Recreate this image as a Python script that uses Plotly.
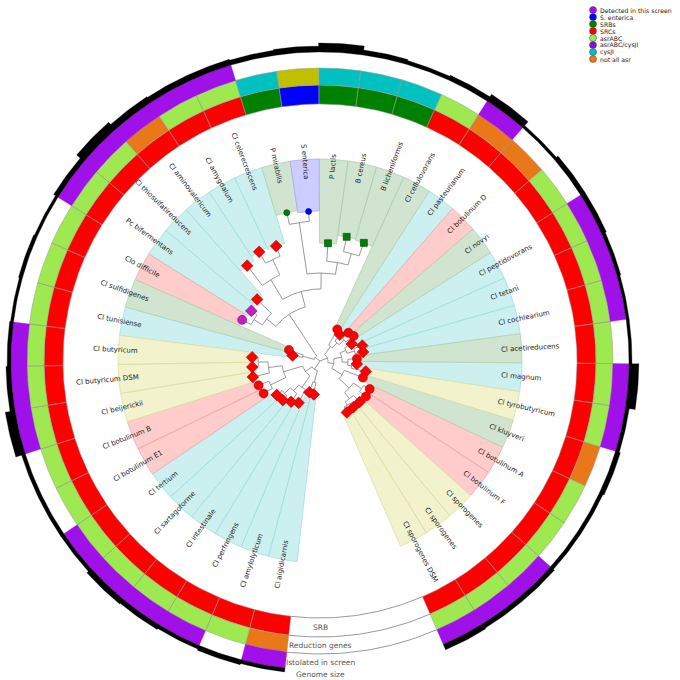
import math
import plotly.graph_objects as go

# ------------------------------------------------------------------ data
taxa = ["Cl algidicarnis", "Cl amylolyticum", "Cl perfringens", "Cl intestinale", "Cl sartagoforme",
        "Cl tertium", "Cl botulinum E1", "Cl botulinum B", "Cl beijerickii", "Cl butyricum DSM",
        "Cl butyricum", "Cl tunisiense", "Cl sulfidigenes", "Clo difficile", "Pc bifermentans",
        "Cl thiosulfatireducens", "Cl aminovalericum", "Cl amygdalum", "Cl celerecrescens", "P mirabilis",
        "S enterica", "P lactis", "B cereus", "B licheniformis", "Cl cellulovorans",
        "Cl pasteurianum", "Cl botulinum D", "Cl novyi", "Cl peptidovorans", "Cl tetani",
        "Cl cochlearium", "Cl acetireducens", "Cl magnum", "Cl tyrobutyricum", "Cl kluyveri",
        "Cl botulinum A", "Cl botulinum F", "Cl sporogenes", "Cl sporogenes", "Cl sporogenes DSM"]

# background highlight group of each leaf
clade = ["cy", "cy", "cy", "cy", "cy", "cy", "pk", "pk", "ye", "ye",
         "ye", "cy", "gr", "pk", "cy", "cy", "cy", "cy", "cy", "gr",
         "lv", "gr", "gr", "gr", "gr", "cy", "pk", "gr", "cy", "cy",
         "cy", "gr", "cy", "ye", "gr", "pk", "pk", "ye", "ye", "ye"]

# ring 1 : SRB
srb_class = ["SRCs"] * 19 + ["SRBs", "S. enterica", "SRBs", "SRBs", "SRBs"] + ["SRCs"] * 16

# ring 2 : reduction genes
reduction_class = (["not all asr"] + ["asrABC"] * 15 + ["not all asr"] + ["asrABC"] * 2 +
                   ["cysJI", "other", "cysJI", "cysJI", "cysJI", "asrABC", "not all asr", "not all asr"] +
                   ["asrABC"] * 7 + ["not all asr"] + ["asrABC"] * 5)

# ring 3 : isolated in screen (1 = yes)
isolated = [1, 0, 1, 1, 1, 1, 0, 0, 1, 1,
            1, 0, 0, 0, 1, 1, 1, 1, 1, 0,
            0, 0, 0, 0, 0, 1, 0, 0, 1, 1,
            1, 0, 1, 1, 0, 0, 0, 1, 1, 1]

# ring 4 : genome size (Mb)
genome_mb = [3.8, 4.2, 3.8, 4.2, 4.5, 3.8, 3.8, 3.8, 5.8, 4.2,
             3.8, 3.5, 3.8, 3.5, 4.2, 5.8, 4.8, 4.5, 4.5, 4.2,
             4.5, 5.5, 4.2, 3.8, 4.2, 5.2, 3.5, 4.2, 4.2, 3.8,
             3.5, 3.5, 5.8, 3.8, 4.2, 3.8, 3.8, 4.2, 4.2, 4.5]

# leaf node marker style
leaf_marker = ["rd", "rd", "rd", "rd", "rd", "rd", "rc", "rc", "rd", "rd",
               "rd", "rd", "rc", "mc", "md", "rd", "rd", "rd", "rd", "gc",
               "bc", "gs", "gs", "gs", "rc", "rd", "rc", "rc", "rd", "rd",
               "rd", "rc", "rd", "rd", "rc", "rc", "rc", "rd", "rd", "rd"]

# tree (leaf tN = taxa[N-1]) with branch lengths
newick = ("(((t1:12,t2:11):12,((t3:15,(t4:10,(t5:6,t6:7):8):8):14,((t7:10,t8:11):17,"
          "(t9:17,(t10:6,t11:6):10):14):20):8):10,"
          "((t12:10,t13:15):12,(((t14:10,t15:7):10,t16:20):12,((t17:25,(t18:13,t19:11):17):23,"
          "((t20:12,t21:10):52,(t22:18,(t23:15,t24:14):12):12):16):16):50):6,"
          "((t25:18,(t26:8,(t27:8,t28:10):7):7):10,(((t29:8,(t30:9,t31:8):8):6,"
          "(t32:9,(t33:5,t34:15):4):6):8,(t35:20,((t36:7,t37:8):10,(t38:9,(t39:5,t40:6):4):8):14):12):6):8);")

legend_labels = ["Detected in this screen", "S. enterica", "SRBs", "SRCs",
                 "asrABC", "asrABC/cysJI", "cysJI", "not all asr"]
ring_labels = ["SRB", "Reduction genes", "Istolated in screen", "Genome size"]

# ------------------------------------------------------------------ styles
clade_fill = {"cy": "#ccf0f0", "pk": "#ffcccc", "gr": "#d0e4d0", "ye": "#f2f2cc", "lv": "#ccccff"}
clade_line = {"cy": "#a6dede", "pk": "#eeaaaa", "gr": "#b0d0b0", "ye": "#dedea6", "lv": "#a8a8ee"}
class_color = {"Detected in this screen": "#a010e8", "S. enterica": "#0000ff", "SRBs": "#008000",
               "SRCs": "#ff0000", "asrABC": "#9ee850", "asrABC/cysJI": "#8010e0", "cysJI": "#00c0c0",
               "not all asr": "#e87818", "other": "#c0c000"}
marker_style = {
    "rd": dict(symbol="diamond", color="#ff0000", size=9, line=dict(color="#b00000", width=0.6)),
    "rc": dict(symbol="circle", color="#ff0000", size=9, line=dict(color="#b00000", width=0.6)),
    "md": dict(symbol="diamond", color="#c020c0", size=9, line=dict(color="#800080", width=0.6)),
    "mc": dict(symbol="circle", color="#c020c0", size=9, line=dict(color="#800080", width=0.6)),
    "gs": dict(symbol="square", color="#008000", size=7, line=dict(color="#004000", width=0.6)),
    "gc": dict(symbol="circle", color="#008000", size=6, line=dict(color="#004000", width=0.6)),
    "bc": dict(symbol="circle", color="#0000ff", size=6, line=dict(color="#000080", width=0.6)),
}

START, STEP = 263.5, 8.25          # angular layout of the leaves (degrees)
TREE_PX = 1.0                      # px per branch-length unit
WEDGE_R = 202
LABEL_R = 182
R_SRB = (257, 276)
R_RED = (276, 293)
R_ISO = (293, 309)
GENOME_BASE, GENOME_MIN, GENOME_PX = 309, 2.5, 3.0
FONT = "DejaVu Sans"
LABEL_SIZE = 7

N = len(taxa)
theta = [START - (i + 0.5) * STEP for i in range(N)]


def pol(r, a):
    t = math.radians(a)
    return r * math.cos(t), r * math.sin(t)


def arc(r, a0, a1):
    n = max(2, int(abs(a1 - a0) / 0.75) + 1)
    return [pol(r, a0 + (a1 - a0) * k / (n - 1)) for k in range(n)]


def sector(r0, r1, a0, a1):
    pts = arc(r1, a0, a1) + arc(r0, a1, a0)
    pts.append(pts[0])
    return pts


fig = go.Figure()


def add_polys(polys, fill, line_color, line_width):
    xs, ys = [], []
    for pts in polys:
        xs += [p[0] for p in pts] + [None]
        ys += [p[1] for p in pts] + [None]
    fig.add_trace(go.Scatter(x=xs, y=ys, mode="lines", fill="toself", fillcolor=fill,
                             line=dict(color=line_color, width=line_width),
                             hoverinfo="skip", showlegend=False))


# ------------------------------------------------------------------ tree
def parse_newick(s):
    pos = 0

    def node():
        nonlocal pos
        children = []
        if s[pos] == "(":
            pos += 1
            while True:
                children.append(node())
                if s[pos] == ",":
                    pos += 1
                    continue
                if s[pos] == ")":
                    pos += 1
                    break
        st = pos
        while pos < len(s) and s[pos] not in ":,();":
            pos += 1
        name = s[st:pos]
        length = 0.0
        if pos < len(s) and s[pos] == ":":
            pos += 1
            st = pos
            while s[pos] not in ",();":
                pos += 1
            length = float(s[st:pos])
        return {"name": name, "len": length, "children": children}

    return node()


tree = parse_newick(newick)
leaf_r = [0.0] * N


def layout(nd, r_parent):
    nd["r"] = r_parent + nd["len"] * TREE_PX
    if not nd["children"]:
        idx = int(nd["name"][1:]) - 1
        nd["a"] = theta[idx]
        leaf_r[idx] = nd["r"]
    else:
        for c in nd["children"]:
            layout(c, nd["r"])
        nd["a"] = (nd["children"][0]["a"] + nd["children"][-1]["a"]) / 2


layout(tree, 0.0)

# ------------------------------------------------------------------ wedges
for key in clade_fill:
    polys = [sector(leaf_r[i], WEDGE_R, theta[i] - STEP / 2, theta[i] + STEP / 2)
             for i in range(N) if clade[i] == key]
    if polys:
        add_polys(polys, clade_fill[key], clade_line[key], 0.8)

# tree lines
tx, ty = [], []


def collect(nd):
    if not nd["children"]:
        return
    pts = arc(nd["r"], nd["children"][0]["a"], nd["children"][-1]["a"])
    tx.extend([p[0] for p in pts] + [None])
    ty.extend([p[1] for p in pts] + [None])
    for c in nd["children"]:
        p0 = pol(nd["r"], c["a"])
        p1 = pol(c["r"], c["a"])
        tx.extend([p0[0], p1[0], None])
        ty.extend([p0[1], p1[1], None])
        collect(c)


collect(tree)
fig.add_trace(go.Scatter(x=tx, y=ty, mode="lines", line=dict(color="#999999", width=1),
                         hoverinfo="skip", showlegend=False))

# leaf markers
for key, st in marker_style.items():
    idx = [i for i in range(N) if leaf_marker[i] == key]
    if not idx:
        continue
    pts = [pol(leaf_r[i], theta[i]) for i in idx]
    fig.add_trace(go.Scatter(x=[p[0] for p in pts], y=[p[1] for p in pts], mode="markers",
                             marker=st, hoverinfo="skip", showlegend=False))

# ------------------------------------------------------------------ rings
for ring_vals, (r0, r1) in ((srb_class, R_SRB), (reduction_class, R_RED)):
    for cls in dict.fromkeys(ring_vals):
        polys = [sector(r0, r1, theta[i] - STEP / 2, theta[i] + STEP / 2)
                 for i in range(N) if ring_vals[i] == cls]
        add_polys(polys, class_color[cls], "#999999", 0.5)

polys = [sector(R_ISO[0], R_ISO[1], theta[i] - STEP / 2, theta[i] + STEP / 2)
         for i in range(N) if isolated[i]]
add_polys(polys, class_color["Detected in this screen"], "#a010e8", 0.3)

polys = [sector(GENOME_BASE, GENOME_BASE + max(GENOME_MIN, (genome_mb[i] - 2.5) * GENOME_PX),
                theta[i] - STEP / 2, theta[i] + STEP / 2) for i in range(N)]
add_polys(polys, "#000000", "#000000", 0.3)

# gray guide arcs in the gap
gap0, gap1 = START - N * STEP, START - 360
gx, gy = [], []
for r in (R_SRB[0], R_SRB[1], R_RED[1]):
    pts = arc(r, gap0, gap1)
    gx += [p[0] for p in pts] + [None]
    gy += [p[1] for p in pts] + [None]
fig.add_trace(go.Scatter(x=gx, y=gy, mode="lines", line=dict(color="#999999", width=1),
                         hoverinfo="skip", showlegend=False))

# ------------------------------------------------------------------ labels
CW = {' ': 0.318, 'A': 0.684, 'B': 0.686, 'C': 0.698, 'D': 0.770, 'E': 0.632, 'F': 0.575,
      'M': 0.863, 'P': 0.603, 'S': 0.635, 'a': 0.613, 'b': 0.635, 'c': 0.550, 'd': 0.635,
      'e': 0.615, 'f': 0.352, 'g': 0.635, 'h': 0.634, 'i': 0.278, 'j': 0.278, 'k': 0.579,
      'l': 0.278, 'm': 0.974, 'n': 0.634, 'o': 0.612, 'p': 0.635, 'q': 0.635, 'r': 0.411,
      's': 0.521, 't': 0.392, 'u': 0.634, 'v': 0.592, 'w': 0.818, 'x': 0.592, 'y': 0.592,
      'z': 0.525, '1': 0.636}

annotations = []
for i, name in enumerate(taxa):
    w = sum(CW.get(ch, 0.6) for ch in name) * LABEL_SIZE
    a = theta[i]
    x, y = pol(LABEL_R + w / 2, a)
    if math.cos(math.radians(a)) >= 0:
        ang = -a
    else:
        ang = 180 - a
    ang = (ang + 180) % 360 - 180
    annotations.append(dict(x=x, y=y, xref="x", yref="y", text=name, showarrow=False,
                            textangle=ang, xanchor="center", yanchor="middle",
                            font=dict(family=FONT, size=LABEL_SIZE, color="#222222")))

ring_mids = [sum(R_SRB) / 2, sum(R_RED) / 2, sum(R_ISO) / 2, GENOME_BASE + 4.5]
for lab, r in zip(ring_labels, ring_mids):
    x, y = pol(r, 270)
    annotations.append(dict(x=x, y=y, xref="x", yref="y", text=lab, showarrow=False,
                            xanchor="center", yanchor="middle",
                            font=dict(family=FONT, size=7.5, color="#555555")))

# legend (drawn manually, compact)
LEG_X, LEG_Y0, LEG_DY = 273, 351, 7.0
ly = [LEG_Y0 - k * LEG_DY for k in range(len(legend_labels))]
fig.add_trace(go.Scatter(x=[LEG_X] * len(legend_labels), y=ly, mode="markers",
                         marker=dict(size=7, color=[class_color[l] for l in legend_labels],
                                     line=dict(color="#444444", width=0.5)),
                         hoverinfo="skip", showlegend=False))
for lab, yy in zip(legend_labels, ly):
    annotations.append(dict(x=LEG_X + 6, y=yy, xref="x", yref="y", text=lab, showarrow=False,
                            xanchor="left", yanchor="middle", borderpad=0,
                            font=dict(family=FONT, size=6.2, color="#222222")))

fig.update_layout(
    width=680, height=680, autosize=False,
    margin=dict(l=0, r=0, t=0, b=0),
    paper_bgcolor="white", plot_bgcolor="white",
    xaxis=dict(range=[-320, 360], visible=False, fixedrange=True),
    yaxis=dict(range=[-319, 361], visible=False, fixedrange=True),
    annotations=annotations,
    showlegend=False,
    hovermode=False,
)

fig.write_html("out.html",
               config={"displayModeBar": False, "staticPlot": True},
               post_script="document.body.style.margin='0';document.body.style.overflow='hidden';")
